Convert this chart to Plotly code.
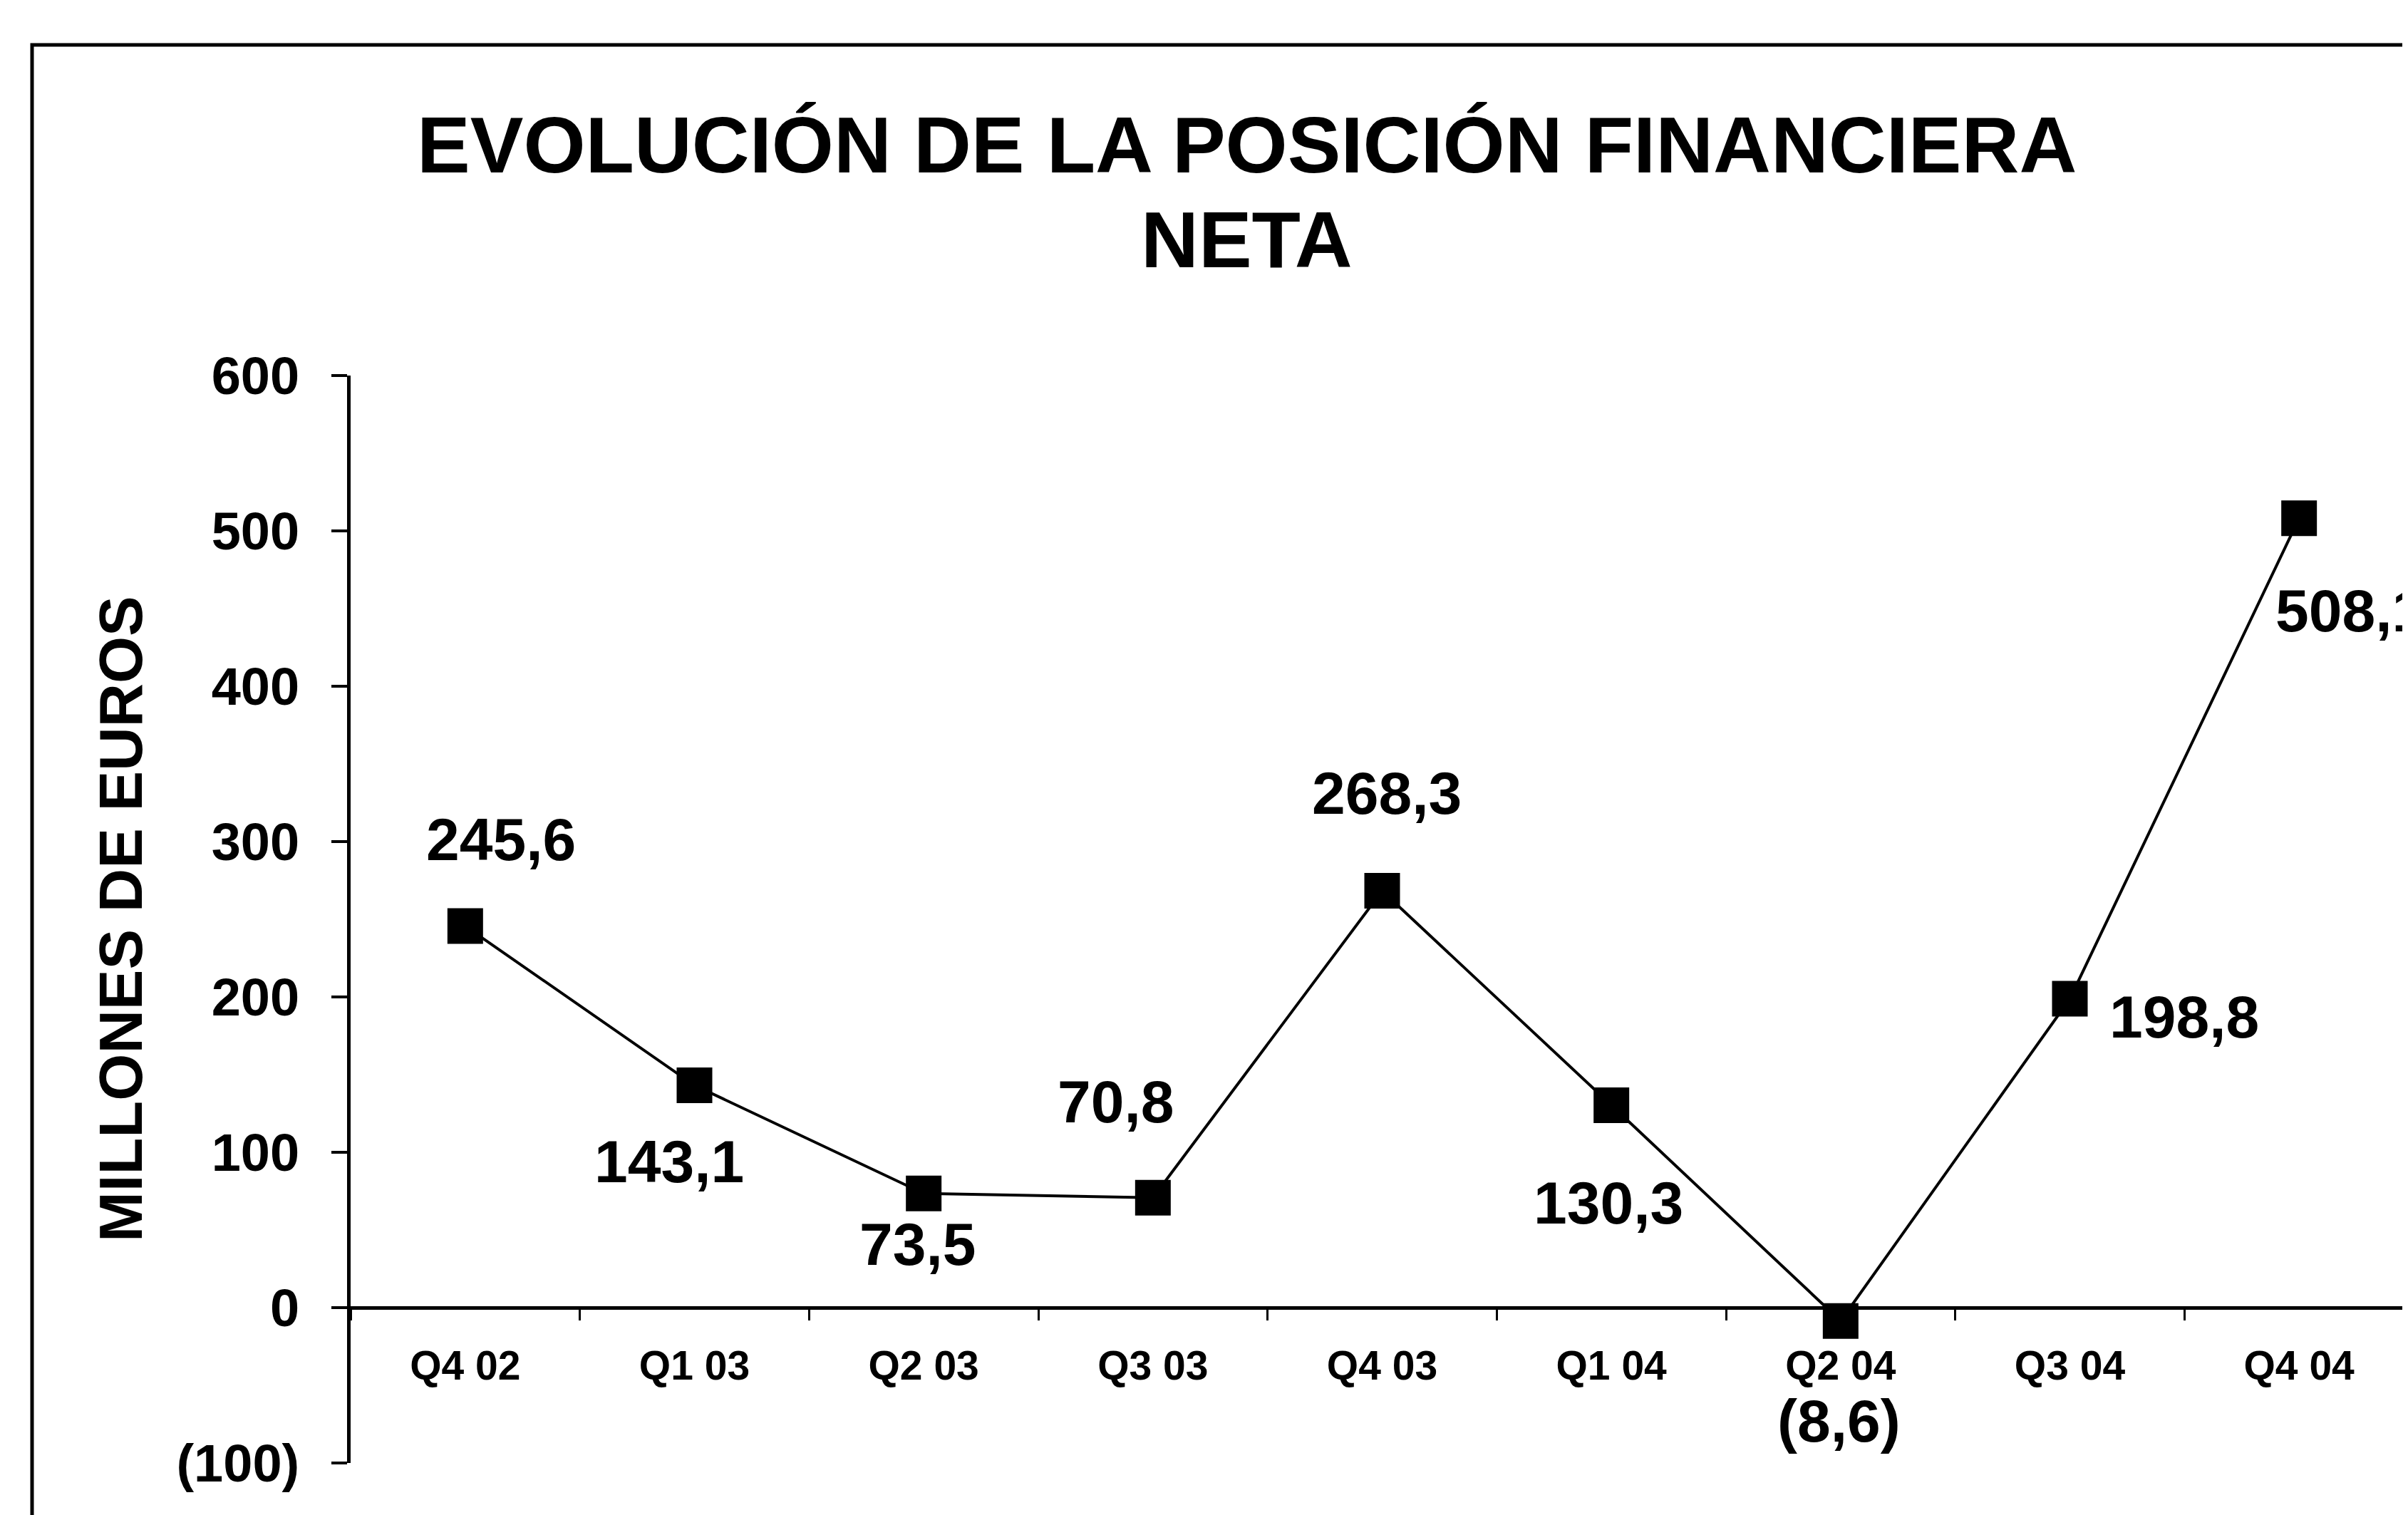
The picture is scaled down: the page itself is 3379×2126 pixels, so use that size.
import plotly.graph_objects as go

# ---- data ----
quarters = ["Q4 02", "Q1 03", "Q2 03", "Q3 03", "Q4 03", "Q1 04", "Q2 04", "Q3 04", "Q4 04"]
values = [245.6, 143.1, 73.5, 70.8, 268.3, 130.3, -8.6, 198.8, 508.1]
y_tickvals = [-100, 0, 100, 200, 300, 400, 500, 600]
y_ticktext = ["(100)", "0", "100", "200", "300", "400", "500", "600"]
title_lines = ["EVOLUCIÓN DE LA POSICIÓN FINANCIERA", "NETA"]
y_title = "MILLONES DE EUROS"

# label offsets in pixels (dx right, dy down) relative to each point
label_dx = [50, -36, -8, -52, 6, -4, -2, 160, 72]
label_dy = [-122, 107, 71, -135, -137, 137, 140, 25, 130]

W, H = 3379, 2126
ML, MR, MT, MB = 484, 0, 519, 81
FONT = "Liberation Sans, Arial, sans-serif"
plot_w = W - ML - MR
plot_h = H - MT - MB


def fmt(v):
    s = f"{abs(v):.1f}".replace(".", ",")
    return f"({s})" if v < 0 else s


def py(px):
    """pixel row (from top) -> paper y"""
    return (H - MB - px) / plot_h


def pxx(px):
    """pixel column (from left) -> paper x"""
    return (px - ML) / plot_w


fig = go.Figure()
fig.add_trace(go.Scatter(
    x=quarters, y=values, mode="lines+markers",
    line=dict(color="black", width=4),
    marker=dict(symbol="square", size=50, color="black"),
    cliponaxis=False, showlegend=False, hoverinfo="skip",
))

for q, v, dx, dy in zip(quarters, values, label_dx, label_dy):
    fig.add_annotation(
        x=q, y=v, xref="x", yref="y", text=fmt(v), showarrow=False,
        xanchor="center", yanchor="middle", xshift=dx, yshift=-dy,
        font=dict(family=FONT, size=84, color="black", weight="bold"),
    )

# title (two lines, placed individually for exact line spacing)
for line, cy in zip(title_lines, [196, 329]):
    fig.add_annotation(
        x=pxx(1741), y=py(cy), xref="paper", yref="paper",
        text=line, showarrow=False, xanchor="center", yanchor="middle",
        font=dict(family=FONT, size=112, color="black", weight="bold"),
    )

fig.add_annotation(
    x=pxx(161), y=0.5, xref="paper", yref="paper",
    text=y_title, textangle=-90, showarrow=False,
    xanchor="center", yanchor="middle",
    font=dict(family=FONT, size=85, color="black", weight="bold"),
)

# frame around the chart (partially off-canvas on right/bottom)
fig.add_shape(
    type="rect", xref="paper", yref="paper",
    x0=pxx(37), x1=1.02, y0=py(2200), y1=py(55),
    line=dict(color="black", width=5), layer="below",
)

fig.update_layout(
    width=W, height=H, autosize=False,
    margin=dict(l=ML, r=MR, t=MT, b=MB, pad=0),
    paper_bgcolor="white", plot_bgcolor="white",
    xaxis=dict(
        type="category", range=[-0.5, 8.5],
        anchor="free", position=100 / 700,
        showline=True, linecolor="black", linewidth=5,
        ticks="outside", tickson="boundaries", ticklen=15, tickwidth=3, tickcolor="black",
        showgrid=False, zeroline=False,
        tickfont=dict(family=FONT, size=57, color="black", weight="bold"),
        ticklabelstandoff=30,
    ),
    yaxis=dict(
        range=[-100, 600], tickvals=y_tickvals, ticktext=y_ticktext,
        showline=True, linecolor="black", linewidth=5,
        ticks="outside", ticklen=22, tickwidth=4, tickcolor="black",
        showgrid=False, zeroline=False,
        tickfont=dict(family=FONT, size=74, color="black", weight="bold"),
        ticklabelstandoff=30,
    ),
)

fig.write_html("out.html")
